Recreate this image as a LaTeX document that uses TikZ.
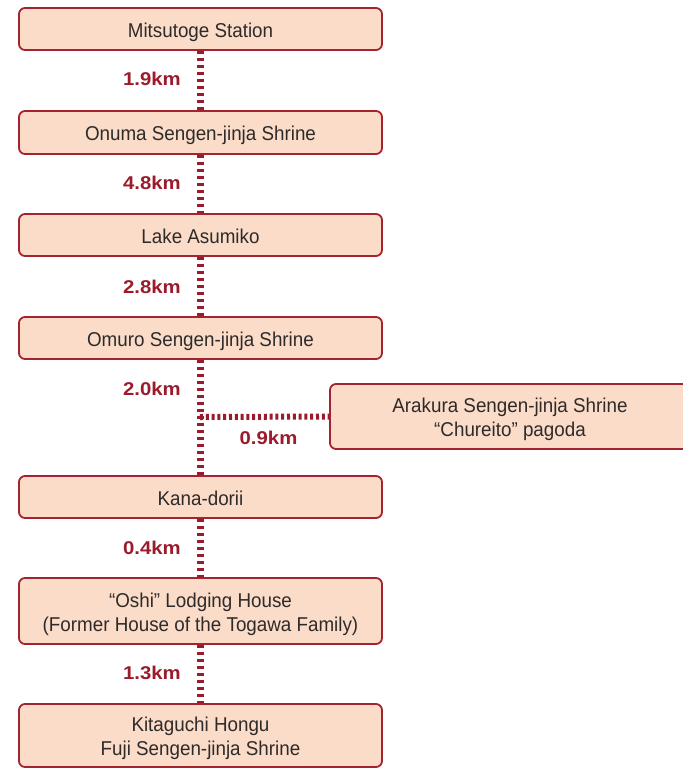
\documentclass[tikz,border=0pt]{standalone}
\usepackage{fontspec}
\setmainfont{Liberation Sans}
\newfontfamily\condfont[FakeStretch=0.94]{Liberation Sans}
\newfontfamily\distfont[FakeStretch=1.1]{Liberation Sans}
\definecolor{boxfill}{HTML}{FADCC8}
\definecolor{boxline}{HTML}{A3232F}
\definecolor{routered}{HTML}{9B1B2C}
\definecolor{boxtext}{HTML}{2E2A2A}
\newcommand{\placetext}[1]{\raisebox{-3.4pt}[\height][\depth]{\begin{tabular}{@{}c@{}}#1\end{tabular}}}
\tikzset{
  placebox/.style={draw=boxline, line width=1.8pt, fill=boxfill, rounded corners=6pt,
    minimum width=363pt, inner sep=0pt, text=boxtext,
    font=\condfont\fontsize{20}{24}\selectfont},
  route/.style={draw=routered, line width=6.5pt, dash pattern=on 3.4pt off 3.6pt},
  hroute/.style={draw=routered, line width=6pt, dash pattern=on 3pt off 2.8pt},
  dist/.style={text=routered, font=\distfont\bfseries\fontsize{18.5}{22}\selectfont, inner sep=0pt}
}
\begin{document}
\begin{tikzpicture}[x=1pt,y=-1pt]
\useasboundingbox (0,0) rectangle (683,769);
% boxes
\node[placebox, minimum height=42pt] (b1) at (200.5,29) {\placetext{Mitsutoge Station}};
\node[placebox, minimum height=43pt] (b2) at (200.5,132.5) {\placetext{Onuma Sengen-jinja Shrine}};
\node[placebox, minimum height=42pt] (b3) at (200.5,235) {\placetext{Lake Asumiko}};
\node[placebox, minimum height=42pt] (b4) at (200.5,338) {\placetext{Omuro Sengen-jinja Shrine}};
\node[placebox, minimum height=65pt, minimum width=360pt] (ar) at (510,416.5) {\placetext{Arakura Sengen-jinja Shrine\\“Chureito” pagoda}};
\node[placebox, minimum height=42pt] (b5) at (200.5,497) {\placetext{Kana-dorii}};
\node[placebox, minimum height=66pt] (b6) at (200.5,611) {\placetext{“Oshi” Lodging House\\(Former House of the Togawa Family)}};
\node[placebox, minimum height=63pt] (b7) at (200.5,735.5) {\placetext{Kitaguchi Hongu\\Fuji Sengen-jinja Shrine}};
% connectors
\coordinate (j) at (200,417);
\draw[route] (b1.south) -- (b2.north);
\draw[route] (b2.south) -- (b3.north);
\draw[route] (b3.south) -- (b4.north);
\draw[route] (b4.south) -- (b5.north);
\draw[hroute] (j) -- (ar.west);
\draw[route] (b5.south) -- (b6.north);
\draw[route] (b6.south) -- (b7.north);
% distances
\node[dist, anchor=east] (d1) at (181,79) {1.9km};
\node[dist, anchor=east] (d2) at (181,183) {4.8km};
\node[dist, anchor=east] (d3) at (181,287) {2.8km};
\node[dist, anchor=east] (d4) at (181,389) {2.0km};
\node[dist] (d5) at (268.5,437.5) {0.9km};
\node[dist, anchor=east] (d6) at (181,548) {0.4km};
\node[dist, anchor=east] (d7) at (181,673) {1.3km};
\end{tikzpicture}
\end{document}
